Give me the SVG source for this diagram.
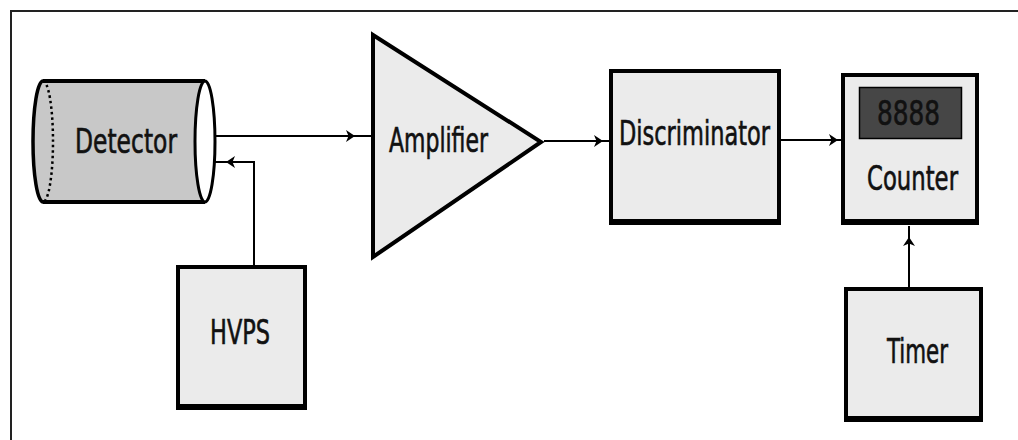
<svg xmlns="http://www.w3.org/2000/svg" width="1018" height="440" viewBox="0 0 1018 440">
<style>
.box{fill:#ebebeb;stroke:#000;stroke-width:4}
.sh{fill:#000;stroke:#000;stroke-width:4}
.lbl{font-family:"DejaVu Sans Condensed","DejaVu Sans",sans-serif;font-size:33px;fill:#111;stroke:#111;stroke-width:0.6}
.wire{fill:none;stroke:#000;stroke-width:2}
</style>
<defs>
<marker id="ah" viewBox="0 0 9 12" refX="9" refY="6" markerWidth="9" markerHeight="12" markerUnits="userSpaceOnUse" orient="auto">
<path d="M0,0 L9,6 L0,12 L2.5,6 Z" fill="#000"/>
</marker>
</defs>
<rect width="1018" height="440" fill="#fff"/>
<path d="M11,440 V11 H1018" fill="none" stroke="#222" stroke-width="2"/>

<g id="connectors">
<path class="wire" d="M208,136 H355" marker-end="url(#ah)"/>
<path class="wire" d="M355,136 H372"/>
<path class="wire" d="M254,266 V162 H226" marker-end="url(#ah)"/>
<path class="wire" d="M226,162 H208"/>
<path class="wire" d="M544,141 H603" marker-end="url(#ah)"/>
<path class="wire" d="M603,141 H610"/>
<path class="wire" d="M781,140 H838" marker-end="url(#ah)"/>
<path class="wire" d="M838,140 H842"/>
<path class="wire" d="M909,288 V237" marker-end="url(#ah)"/>
<path class="wire" d="M909,237 V226"/>
</g>

<g id="detector">
<path d="M43,81 H205 V202 H43 A10,60.5 0 0 1 43,81 Z" fill="#c8c8c8"/>
<path d="M43,81 H205 M43,202 H205" stroke="#000" stroke-width="4" fill="none"/>
<path d="M43,202 A10,60.5 0 0 1 43,81" fill="none" stroke="#000" stroke-width="3.5"/>
<path d="M43,81 A10,60.5 0 0 1 43,202" fill="none" stroke="#000" stroke-width="2.5" stroke-dasharray="2.5,3"/>
<ellipse cx="205" cy="141.5" rx="10" ry="60.5" fill="#fff" stroke="#000" stroke-width="3"/>
<text class="lbl" x="75" y="153" textLength="102" lengthAdjust="spacingAndGlyphs">Detector</text>
</g>

<g id="hvps">
<rect class="sh" x="178" y="269" width="127" height="139"/>
<rect class="box" x="178" y="267" width="127" height="139"/>
<text class="lbl" x="210" y="344" textLength="60" lengthAdjust="spacingAndGlyphs">HVPS</text>
</g>

<g id="amplifier">
<path d="M373,35 L541,142 L373,257 Z" fill="#ebebeb" stroke="#000" stroke-width="4" stroke-linejoin="miter"/>
<text class="lbl" x="389" y="152" textLength="99" lengthAdjust="spacingAndGlyphs">Amplifier</text>
</g>

<g id="discriminator">
<rect class="sh" x="611" y="73" width="168" height="150"/>
<rect class="box" x="611" y="71" width="168" height="150"/>
<text class="lbl" x="619" y="145" textLength="151" lengthAdjust="spacingAndGlyphs">Discriminator</text>
</g>

<g id="counter">
<rect class="sh" x="843" y="77" width="134" height="146"/>
<rect class="box" x="843" y="75" width="134" height="146"/>
<rect x="859.5" y="87.5" width="102" height="51" fill="#464646" stroke="#000" stroke-width="1.5"/>
<text class="lbl" x="877" y="125" textLength="63" lengthAdjust="spacingAndGlyphs">8888</text>
<text class="lbl" x="867" y="190" textLength="91" lengthAdjust="spacingAndGlyphs">Counter</text>
</g>

<g id="timer">
<rect class="sh" x="846" y="291" width="135" height="129"/>
<rect class="box" x="846" y="289" width="135" height="129"/>
<text class="lbl" x="887" y="363" textLength="61" lengthAdjust="spacingAndGlyphs">Timer</text>
</g>
</svg>
